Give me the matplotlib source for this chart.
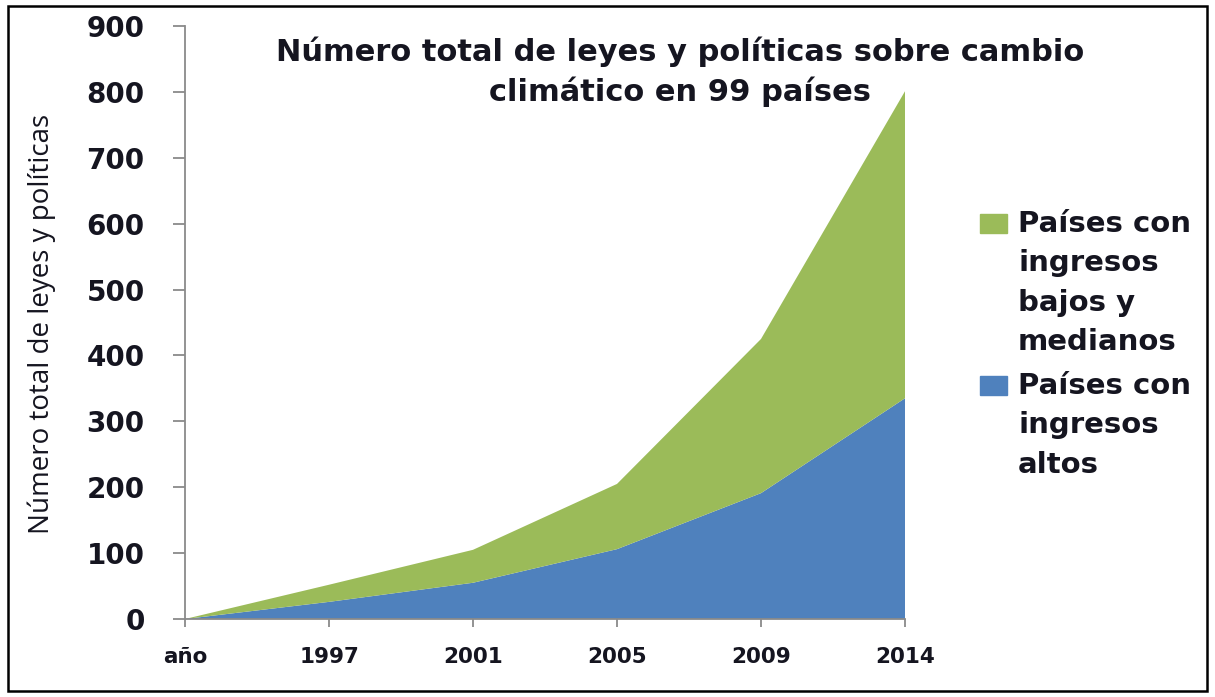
import matplotlib
matplotlib.use("Agg")
import matplotlib.pyplot as plt
from matplotlib.patches import Rectangle

categories = ["año", "1997", "2001", "2005", "2009", "2014"]
altos = [0, 26, 55, 106, 191, 335]
bajos_medianos = [0, 26, 50, 99, 234, 466]
yticks = [0, 100, 200, 300, 400, 500, 600, 700, 800, 900]

title = "Número total de leyes y políticas sobre cambio\nclimático en 99 países"
ylabel = "Número total de leyes y políticas"
legend_labels = ["Países con\ningresos\nbajos y\nmedianos", "Países con\ningresos\naltos"]

GREEN = "#9BBB59"
BLUE = "#4F81BD"
TXT = "#151520"
WIDE = "DejaVu Sans"

fig = plt.figure(figsize=(12.15, 6.97), dpi=100)
ax = fig.add_axes([185/1215, 1-619/697, (905-185)/1215, (619-26)/697])

x = list(range(len(categories)))
ax.stackplot(x, altos, bajos_medianos, colors=[BLUE, GREEN], linewidth=0)

ax.set_xlim(0, len(categories)-1)
ax.set_ylim(0, 900)
ax.set_yticks(yticks)
ax.set_yticklabels([str(v) for v in yticks], fontsize=20, fontfamily=WIDE,
                   color=TXT, fontweight="bold")
ax.set_xticks(x)
ax.set_xticklabels(categories, fontsize=15.5, fontfamily=WIDE,
                   color=TXT, fontweight="bold")
ax.tick_params(axis="y", direction="out", length=9, width=1.3, color="#8a8a8a", pad=20)
ax.tick_params(axis="x", direction="out", length=6, width=1.3, color="#8a8a8a", pad=14)
for s in ["top", "right"]:
    ax.spines[s].set_visible(False)
for s in ["left", "bottom"]:
    ax.spines[s].set_color("#8a8a8a")
    ax.spines[s].set_linewidth(1.3)

fig.text(680/1215, 1-72/697, title, ha="center", va="center", fontsize=22,
         fontweight="bold", fontfamily=WIDE, color=TXT, linespacing=1.4)

fig.text(42/1215, 1-324/697, ylabel, rotation=90, ha="center", va="center",
         fontsize=20, fontfamily="Open Sans", color=TXT)

# legend
fig.patches.append(Rectangle((980/1215, 1-233/697), 27/1215, 19/697,
                             transform=fig.transFigure, color=GREEN))
fig.patches.append(Rectangle((980/1215, 1-395/697), 27/1215, 19/697,
                             transform=fig.transFigure, color=BLUE))
fig.text(1018/1215, 1-210/697, legend_labels[0], ha="left", va="top", fontsize=21,
         fontfamily=WIDE, fontweight="bold", color=TXT, linespacing=1.52)
fig.text(1018/1215, 1-372/697, legend_labels[1], ha="left", va="top", fontsize=21,
         fontfamily=WIDE, fontweight="bold", color=TXT, linespacing=1.52)

fig.patches.append(Rectangle((8/1215, 6/697), 1199/1215, 685/697, transform=fig.transFigure,
                             fill=False, edgecolor="black", linewidth=1.8))

fig.savefig("out.png", dpi=100)
